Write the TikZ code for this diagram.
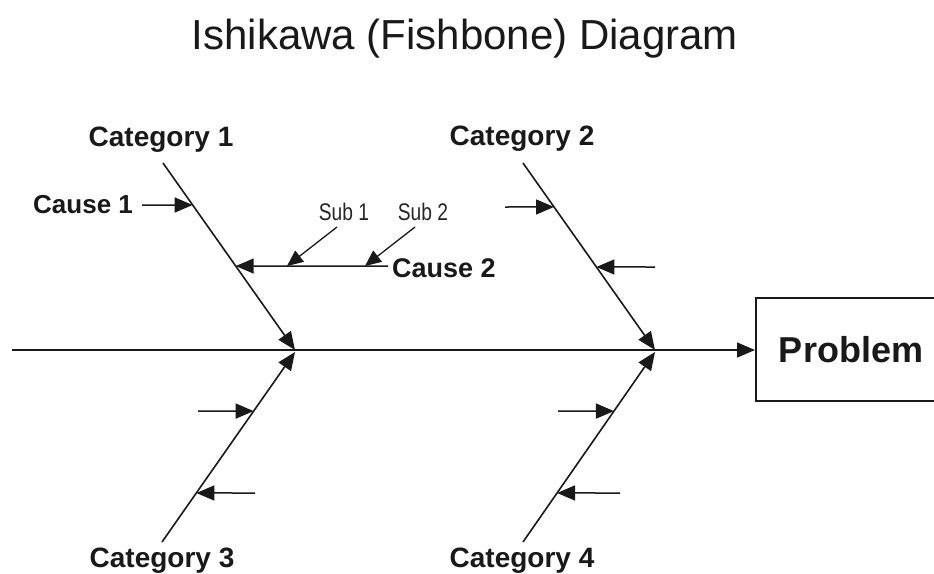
\documentclass[tikz,border=0pt]{standalone}
\usepackage{fontspec}
\usepackage{graphicx}
\setmainfont{Liberation Sans}
\usetikzlibrary{arrows.meta,calc}
\tikzset{
  bone/.style={line width=1.6pt, draw=black!90, -{Triangle[length=18pt,width=15pt]}},
  twig/.style={line width=1.5pt, draw=black!90, -{Triangle[length=18pt,width=15pt]}},
  cat/.style={anchor=base, inner sep=0pt, font=\bfseries\fontsize{28}{30}\selectfont, text=black!90},
  cause/.style={anchor=base west, inner sep=0pt, font=\bfseries\fontsize{26}{28}\selectfont, text=black!90},
  sub/.style={anchor=base, inner sep=0pt, font=\fontsize{24}{26}\selectfont, text=black!85},
}
\begin{document}
\begin{tikzpicture}[x=1pt,y=-1pt]
\useasboundingbox (0,0) rectangle (934,573);
\clip (0,0) rectangle (934,573);
\fill[white] (0,0) rectangle (934,573);

% title
\node[anchor=base, inner sep=0pt, font=\fontsize{42}{44}\selectfont, text=black!90] (title) at (465,49) {Ishikawa (Fishbone) Diagram};

% spine and problem box
\coordinate (tail) at (12,350);
\node[draw=black!90, line width=1.5pt, minimum width=200pt, minimum height=103pt, anchor=north west, inner sep=0pt] (probbox) at (755,297) {};
\node[anchor=base, inner sep=0pt, font=\bfseries\fontsize{36}{38}\selectfont, text=black!90] (problem) at (851,362) {Problem};
\draw[bone] (tail) -- (probbox.west |- tail);

% joints on spine
\coordinate (j1) at (295,350);
\coordinate (j2) at (655,350);
\coordinate (j3) at (295,352);
\coordinate (j4) at (655,352);

% bone ends
\coordinate (b1) at (163,163);
\coordinate (b2) at (523,163);
\coordinate (b3) at (162,542);
\coordinate (b4) at (523,542);

\node[cat] (cat1) at (161,146) {Category 1};
\node[cat] (cat2) at (522,145) {Category 2};
\node[cat] (cat3) at (162,567) {Category 3};
\node[cat] (cat4) at (522,567) {Category 4};

\draw[bone] (b1) -- (j1);
\draw[bone] (b2) -- (j2);
\draw[bone] (b3) -- (j3);
\draw[bone] (b4) -- (j4);

% points on bones
\coordinate (p11) at ($(b1)!0.2246!(j1)$);
\coordinate (p12) at ($(b1)!0.551!(j1)$);
\coordinate (p21) at ($(b2)!0.235!(j2)$);
\coordinate (p22) at ($(b2)!0.556!(j2)$);
\coordinate (p31) at ($(b3)!0.689!(j3)$);
\coordinate (p32) at ($(b3)!0.258!(j3)$);
\coordinate (p41) at ($(b4)!0.689!(j4)$);
\coordinate (p42) at ($(b4)!0.258!(j4)$);

% Category 1 causes
\node[cause] (cause1) at (33,213) {Cause 1};
\draw[twig] ($(cause1.base east)+(9,-8)$) -- (p11);
\node[cause, font=\bfseries\fontsize{27}{29}\selectfont] (cause2) at (392,277) {Cause 2};
\coordinate (c2s) at (388,266);
\draw[twig] (c2s) -- (p12);

% sub causes
\node[sub] (sub1) at (344,220) {\scalebox{0.8}[1]{Sub 1}};
\node[sub] (sub2) at (423,220) {\scalebox{0.8}[1]{Sub 2}};
\coordinate (s1a) at (337,227);
\coordinate (s2a) at (415,227);
\coordinate (s1b) at (287,266);
\coordinate (s2b) at (365,266);
\draw[twig, line width=1.3pt, -{Triangle[length=16pt,width=14pt]}] (s1a) -- (s1b);
\draw[twig, line width=1.3pt, -{Triangle[length=16pt,width=14pt]}] (s2a) -- (s2b);

% Category 2 causes
\coordinate (q21) at (505,207);
\coordinate (q22) at (655,267);
\draw[twig] (q21) -- (p21);
\draw[twig] (q22) -- (p22);

% Category 3 causes
\coordinate (q31) at (198,411);
\coordinate (q32) at (255,493);
\draw[twig] (q31) -- (p31);
\draw[twig] (q32) -- (p32);

% Category 4 causes
\coordinate (q41) at (558,411);
\coordinate (q42) at (620,493);
\draw[twig] (q41) -- (p41);
\draw[twig] (q42) -- (p42);
\end{tikzpicture}
\end{document}
